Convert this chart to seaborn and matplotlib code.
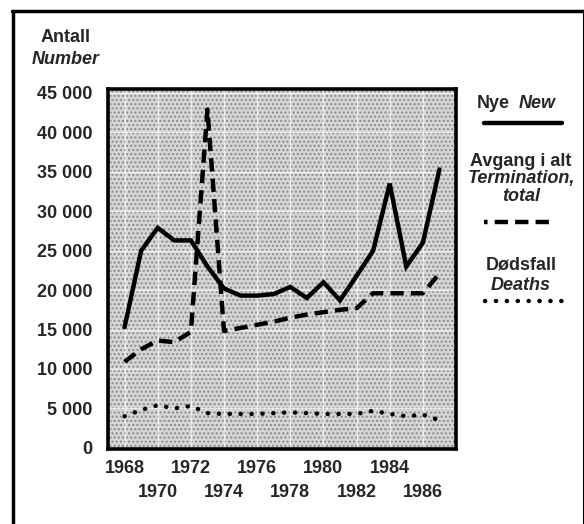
import matplotlib
matplotlib.use("Agg")
import matplotlib.pyplot as plt
from matplotlib.lines import Line2D
from matplotlib.patches import Rectangle
import seaborn as sns
import pandas as pd

years = [1968, 1969, 1970, 1971, 1972, 1973, 1974, 1975, 1976, 1977,
         1978, 1979, 1980, 1981, 1982, 1983, 1984, 1985, 1986, 1987]
new = [15300, 25000, 27900, 26300, 26300, 23000, 20200, 19300, 19300, 19500,
       20400, 19000, 21000, 18700, 21800, 25000, 33500, 23000, 26000, 35300]
termination = [10900, 12500, 13600, 13400, 14700, 42900, 14800, 15200, 15600, 16000,
               16500, 16900, 17200, 17500, 17700, 19600, 19600, 19600, 19600, 22100]
deaths = [4000, 4800, 5400, 5000, 5300, 4400, 4300, 4300, 4300, 4400,
          4500, 4400, 4300, 4300, 4300, 4700, 4300, 4000, 4200, 3500]
yticks = [0, 5000, 10000, 15000, 20000, 25000, 30000, 35000, 40000, 45000]
ytick_labels = ["0", "5 000", "10 000", "15 000", "20 000", "25 000",
                "30 000", "35 000", "40 000", "45 000"]
xticks_row1 = [1968, 1972, 1976, 1980, 1984]
xticks_row2 = [1970, 1974, 1978, 1982, 1986]

df = pd.DataFrame({"year": years, "new": new, "termination": termination, "deaths": deaths})

sns.set_style("white")
plt.rcParams["font.family"] = ["Liberation Sans", "DejaVu Sans"]
plt.rcParams["font.weight"] = "bold"
FS = 13

fig = plt.figure(figsize=(5.84, 5.24), dpi=100)
ax = fig.add_axes([108 / 584, 1 - 449 / 524, 348 / 584, 360 / 524])
ax.set_facecolor("#d6d6d6")
ax.add_patch(Rectangle((0, 0), 1, 1, transform=ax.transAxes, facecolor="none",
                       edgecolor="#8a8a8a", hatch="....", lw=0, zorder=0))

for yv in yticks[1:]:
    ax.axhline(yv, color="white", lw=1.0, alpha=0.7, zorder=0.5)
for xv in sorted(xticks_row1 + xticks_row2):
    ax.axvline(xv, color="white", lw=1.0, alpha=0.7, zorder=0.5)

lw = 3.2
sns.lineplot(data=df, x="year", y="new", ax=ax, color="black", lw=lw,
             solid_joinstyle="miter", zorder=3)
sns.lineplot(data=df, x="year", y="termination", ax=ax, color="black", lw=lw,
             linestyle=(0, (3.0, 1.6)), dash_capstyle="butt", zorder=3)
sns.lineplot(data=df, x="year", y="deaths", ax=ax, color="black", lw=lw,
             linestyle=(0, (0.05, 2.4)), dash_capstyle="round", zorder=3)

ax.set_xlim(1967.0, 1988.0)
ax.set_ylim(-150, 45500)
ax.set_xlabel("")
ax.set_ylabel("")
ax.set_yticks(yticks)
ax.set_yticklabels(ytick_labels, fontsize=FS, fontweight="bold")
ax.set_xticks(xticks_row1)
ax.set_xticklabels([str(y) for y in xticks_row1], fontsize=FS, fontweight="bold")
ax.set_xticks(xticks_row2, minor=True)
ax.set_xticklabels([str(y) for y in xticks_row2], minor=True, fontsize=FS, fontweight="bold")
ax.tick_params(axis="y", length=0, pad=11)
ax.tick_params(axis="x", which="major", length=0, pad=8)
ax.tick_params(axis="x", which="minor", length=0, pad=25)
for s in ax.spines.values():
    s.set_visible(True)
    s.set_linewidth(2.6)
    s.set_color("black")

def fy(y):
    return 1 - y / 524

# y-axis title
fig.text(66 / 584, fy(37), "Antall", ha="center", va="center", fontsize=FS, fontweight="bold")
fig.text(66 / 584, fy(60), "Number", ha="center", va="center", fontsize=FS,
         fontweight="bold", style="italic")

# legend
cx = 521 / 584
fig.text(477 / 584, fy(103), "Nye", ha="left", va="center", fontsize=FS, fontweight="bold")
fig.text(519 / 584, fy(103), "New", ha="left", va="center", fontsize=FS, fontweight="bold", style="italic")
fig.add_artist(Line2D([484 / 584, 562 / 584], [fy(123), fy(123)], color="black", lw=lw))
fig.text(cx, fy(162), "Avgang i alt", ha="center", va="center", fontsize=FS, fontweight="bold")
fig.text(cx, fy(179), "Termination,", ha="center", va="center", fontsize=FS, fontweight="bold", style="italic")
fig.text(cx, fy(196), "total", ha="center", va="center", fontsize=FS, fontweight="bold", style="italic")
fig.add_artist(Line2D([484 / 584, 556 / 584], [fy(222), fy(222)], color="black", lw=lw,
                      linestyle=(2.2, (3.0, 1.6))))
fig.text(cx, fy(265), "Dødsfall", ha="center", va="center", fontsize=FS, fontweight="bold")
fig.text(cx, fy(286), "Deaths", ha="center", va="center", fontsize=FS, fontweight="bold", style="italic")
fig.add_artist(Line2D([485 / 584, 562 / 584], [fy(301), fy(301)], color="black", lw=lw,
                      linestyle=(0, (0.05, 2.4)), dash_capstyle="round"))

# outer frame
fig.add_artist(Line2D([13 / 584, 13 / 584], [0, fy(11)], color="black", lw=2.5))
fig.add_artist(Line2D([12 / 584, 1], [fy(11), fy(11)], color="black", lw=2.5))
fig.add_artist(Line2D([582.5 / 584, 582.5 / 584], [0, fy(11)], color="black", lw=0.8))

fig.savefig("out.png", dpi=100)
